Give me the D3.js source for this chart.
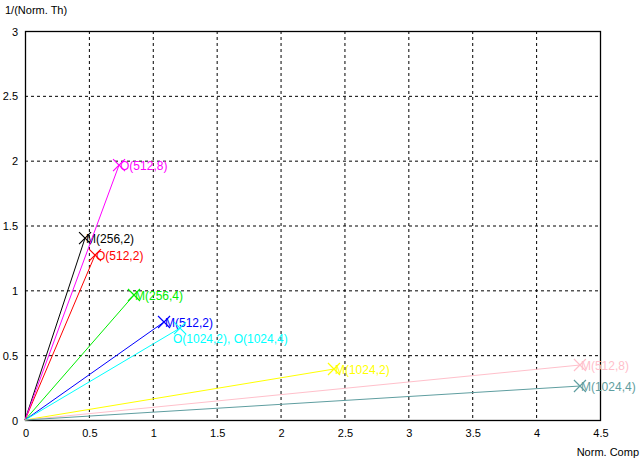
<!DOCTYPE html>
<html><head><meta charset="utf-8">
<script src="https://cdn.jsdelivr.net/npm/d3@7"></script>
<style>body{margin:0;background:#fff}svg{display:block}text{font-family:"Liberation Sans",Arial,sans-serif}</style>
</head><body>
<svg id="c" width="640" height="461"></svg>
<script>
const labels = ["M(256,2)","O(512,2)","O(512,8)","M(256,4)","M(512,2)","O(1024,2), O(1024,4)","M(1024,2)","M(512,8)","M(1024,4)"];
const xs = [0.47, 0.548, 0.736, 0.853, 1.088, 1.213, 2.418, 4.343, 4.343];
const ys = [1.403, 1.272, 1.966, 0.964, 0.756, 0.709, 0.393, 0.424, 0.262];
const colors = ["#000000","#ff0000","#ff00ff","#00ee00","#0000ff","#00ffff","#ffff00","#ffc0cb","#5f9ea0"];
const xTicks = [0,0.5,1,1.5,2,2.5,3,3.5,4,4.5];
const yTicks = [0,0.5,1,1.5,2,2.5,3];

const svg = d3.select("#c");
const L=25, R=600, T=31, B=420;
const x = d3.scaleLinear().domain([0,4.5]).range([L,R]);
const y = d3.scaleLinear().domain([0,3]).range([B,T]);

const g = svg.append("g");
g.selectAll(".gx").data(xTicks).enter().append("line")
 .attr("x1",d=>x(d)+0.5).attr("x2",d=>x(d)+0.5).attr("y1",T).attr("y2",B)
 .attr("stroke","#000").attr("stroke-width",1).attr("stroke-dasharray","3,3");
g.selectAll(".gy").data(yTicks).enter().append("line")
 .attr("y1",d=>y(d)+0.5).attr("y2",d=>y(d)+0.5).attr("x1",L).attr("x2",R)
 .attr("stroke","#000").attr("stroke-width",1).attr("stroke-dasharray","3,3");
svg.append("rect").attr("x",L+0.5).attr("y",T+0.5).attr("width",R-L).attr("height",B-T)
 .attr("fill","none").attr("stroke","#000").attr("stroke-width",1.3);

const xa = svg.append("g").attr("transform",`translate(0.5,${B})`)
 .call(d3.axisBottom(x).tickValues(xTicks).tickSize(0).tickPadding(9).tickFormat(d3.format("")));
xa.select(".domain").remove();
xa.selectAll("text").attr("font-size",11).attr("fill","#000").attr("font-family","Liberation Sans, Arial, sans-serif");
const ya = svg.append("g").attr("transform",`translate(${L},0.5)`)
 .call(d3.axisLeft(y).tickValues(yTicks).tickSize(0).tickPadding(7).tickFormat(d3.format("")));
ya.select(".domain").remove();
ya.selectAll("text").attr("font-size",11).attr("fill","#000").attr("font-family","Liberation Sans, Arial, sans-serif");

svg.append("text").attr("x",5).attr("y",14).attr("font-size",11).text("1/(Norm. Th)");
svg.append("text").attr("x",639).attr("y",456).attr("text-anchor","end").attr("font-size",11).text("Norm. Comp");

const data = labels.map((l,i)=>({l, x:xs[i], y:ys[i], c:colors[i]}));
const s = svg.append("g");
data.forEach((d,i)=>{
  s.append("line").attr("x1",x(0)).attr("y1",y(0)).attr("x2",x(d.x)).attr("y2",y(d.y))
   .attr("stroke",d.c).attr("stroke-width",1);
  const px=x(d.x), py=y(d.y), r=6;
  s.append("path").attr("d",`M${px-r},${py-r}L${px+r},${py+r}M${px-r},${py+r}L${px+r},${py-r}`)
   .attr("stroke",d.c).attr("stroke-width",1.2).attr("fill","none");
  const special = i===5;
  s.append("text").attr("x",special?px-7:px+1).attr("y",special?py+15:py+5)
   .attr("font-size",12).attr("fill",d.c).text(d.l);
});
</script>
</body></html>
